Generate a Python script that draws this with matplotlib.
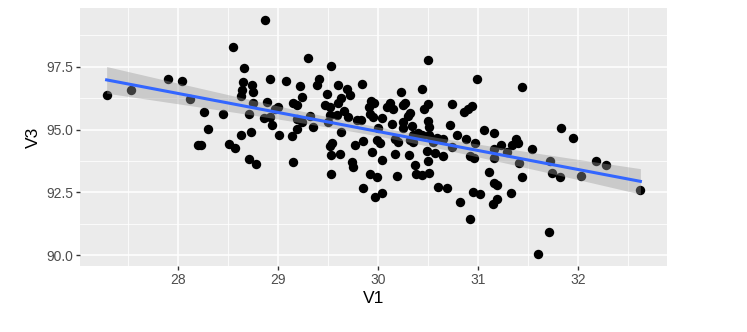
import numpy as np
import matplotlib.pyplot as plt

# V1 / V3 values
v1 = [27.29, 27.53, 27.90, 28.04, 28.12, 28.26, 28.30, 28.20, 28.23,
      28.87, 28.55, 28.66, 28.65, 28.74, 28.64, 28.75, 28.63, 28.75, 28.92,
      29.08, 28.89, 29.00, 28.97, 28.45, 28.71, 28.86, 28.92, 28.94, 28.73,
      28.63, 29.01, 29.14, 28.51, 28.57, 28.71, 28.78, 29.15, 29.22, 29.15,
      29.19, 29.19, 29.19,
      29.30, 29.53, 29.41, 29.39, 29.24, 29.60, 29.69, 29.84, 29.49, 29.63,
      29.72, 29.60, 29.47, 29.52, 29.66, 29.93, 29.96, 29.91, 29.92, 29.95,
      30.04, 29.52, 29.59, 29.70, 29.79, 29.83, 29.32, 29.35, 29.24, 29.50,
      30.00, 29.63, 29.99, 30.02, 29.85, 29.77, 29.54, 29.52, 29.53, 29.62,
      29.94, 30.04, 29.74, 29.75, 29.53, 29.92, 29.99, 29.85, 29.97, 30.04,
      30.50, 30.23, 30.44, 30.12, 30.09, 30.15, 30.27, 30.25, 30.50, 30.46,
      30.74, 30.86, 30.90, 30.94, 30.32, 30.30, 30.14, 30.25, 30.34, 30.25,
      30.50, 30.51, 30.72, 30.40, 30.35, 30.44, 30.51, 30.59, 30.65, 30.79,
      30.88, 30.17, 30.20, 30.32, 30.35, 30.55, 30.74, 30.49, 30.57, 30.65,
      30.17, 30.31, 30.50, 30.37, 30.38, 30.44, 30.51, 30.19, 30.60, 30.69,
      30.82, 30.92,
      30.99, 31.44, 31.06, 31.16, 30.97, 31.38, 31.40, 31.34, 31.23, 31.16,
      31.54, 31.29, 30.92, 30.96, 31.16, 31.41, 31.11, 31.44, 31.16, 31.19,
      30.95, 31.02, 31.33, 31.19, 31.15, 31.71, 31.72, 31.74,
      31.83, 31.95, 31.82, 32.03, 32.18, 32.28, 32.62, 31.60]
v3 = [96.39, 96.59, 97.02, 96.94, 96.23, 95.71, 95.04, 94.37, 94.37,
      99.37, 98.29, 97.46, 96.90, 96.79, 96.59, 96.51, 96.35, 96.07, 97.02,
      96.94, 96.11, 95.91, 95.83, 95.63, 95.60, 95.44, 95.48, 95.20, 94.92,
      94.80, 94.80, 94.76, 94.44, 94.25, 93.81, 93.61, 93.69, 96.75, 96.07,
      95.99, 95.40, 95.04,
      97.86, 97.54, 97.02, 96.79, 96.31, 96.79, 96.63, 96.83, 96.43, 96.27,
      96.39, 96.07, 95.99, 95.91, 95.75, 96.15, 96.07, 95.91, 95.63, 95.48,
      95.44, 95.56, 95.56, 95.48, 95.36, 95.36, 95.52, 95.12, 95.28, 95.28,
      95.08, 94.92, 94.60, 94.48, 94.56, 94.37, 94.48, 94.33, 93.97, 94.01,
      94.09, 93.77, 93.69, 93.49, 93.25, 93.25, 93.13, 92.66, 92.30, 92.46,
      97.78, 96.51, 96.63, 96.07, 95.91, 95.83, 96.07, 95.99, 96.03, 95.83,
      96.03, 95.71, 95.83, 95.95, 95.67, 95.52, 95.24, 95.28, 95.16, 95.08,
      95.32, 95.12, 95.20, 94.88, 94.80, 94.80, 94.80, 94.68, 94.64, 94.80,
      94.64, 94.64, 94.52, 94.60, 94.52, 94.52, 94.29, 94.13, 94.05, 93.93,
      94.01, 93.97, 93.73, 93.57, 93.25, 93.21, 93.29, 93.17, 92.70, 92.66,
      92.10, 91.43,
      97.02, 96.71, 95.00, 94.88, 94.48, 94.64, 94.48, 94.40, 94.37, 94.21,
      94.21, 94.09, 93.93, 93.85, 93.85, 93.65, 93.33, 93.13, 92.86, 92.78,
      92.50, 92.42, 92.46, 92.22, 92.02, 90.91, 93.73, 93.29,
      95.08, 94.68, 93.10, 93.17, 93.73, 93.57, 92.58, 90.04]

x_ticks = [28, 29, 30, 31, 32]
y_ticks = [90.0, 92.5, 95.0, 97.5]

x = np.array(v1)
y = np.array(v3)

# linear fit + 95% band, like geom_smooth(method = "lm")
b1, b0 = np.polyfit(x, y, 1)
n = len(x)
resid = y - (b0 + b1 * x)
s = np.sqrt(np.sum(resid ** 2) / (n - 2))
sxx = np.sum((x - x.mean()) ** 2)
xs = np.linspace(x.min(), x.max(), 80)
fit = b0 + b1 * xs
se = s * np.sqrt(1 / n + (xs - x.mean()) ** 2 / sxx)
t = 1.973

plt.rcParams['font.family'] = ['Liberation Sans', 'DejaVu Sans']

fig = plt.figure(figsize=(7.47, 3.32), dpi=100)
ax = fig.add_axes([0.107, 0.199, 0.786, 0.777])
ax.set_facecolor('#EBEBEB')

xpad = (x.max() - x.min()) * 0.05
ypad = (y.max() - y.min()) * 0.05
ax.set_xlim(x.min() - xpad, x.max() + xpad)
ax.set_ylim(y.min() - ypad, y.max() + ypad)

ax.set_xticks(x_ticks)
ax.set_yticks(y_ticks)
ax.set_yticklabels([f"{v:.1f}" for v in y_ticks])
ax.set_xticks([v + 0.5 for v in range(27, 33)], minor=True)
ax.set_yticks([91.25, 93.75, 96.25, 98.75], minor=True)
ax.grid(which='major', color='white', linewidth=1.1)
ax.grid(which='minor', color='white', linewidth=0.55)
ax.set_axisbelow(True)
for sp in ax.spines.values():
    sp.set_visible(False)
ax.tick_params(which='major', length=3, width=1, color='#333333',
               labelcolor='#4D4D4D', labelsize=10, pad=2)
ax.tick_params(which='minor', length=0)

ax.scatter(x, y, s=46, color='black', linewidths=0, zorder=3)
ax.fill_between(xs, fit - t * se, fit + t * se, color='#999999', alpha=0.4,
                linewidth=0, zorder=4)
ax.plot(xs, fit, color='#3366FF', linewidth=2.2, zorder=5)

ax.set_xlabel('V1', fontsize=12.5, labelpad=3)
ax.set_ylabel('V3', fontsize=12.5, labelpad=4)

fig.savefig('out.png', dpi=100)
